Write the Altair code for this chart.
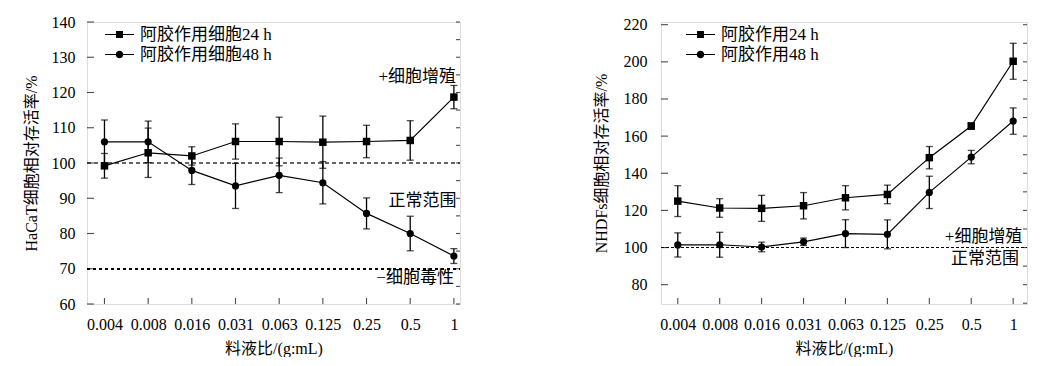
import json
import altair as alt
import pandas as pd

# ---------------- data ----------------
conc_labels = ["0.004", "0.008", "0.016", "0.031", "0.063", "0.125", "0.25", "0.5", "1"]

hacat_24_mean = [99.2, 102.9, 102.0, 106.1, 106.1, 105.9, 106.1, 106.4, 118.7]
hacat_24_err = [3.5, 7.0, 2.6, 5.0, 6.9, 7.4, 4.6, 5.6, 3.3]
hacat_48_mean = [106.0, 106.0, 97.9, 93.5, 96.5, 94.4, 85.7, 80.0, 73.6]
hacat_48_err = [6.2, 5.9, 4.0, 6.4, 4.9, 6.0, 4.4, 4.9, 2.1]

nhdf_24_mean = [125.0, 121.3, 121.1, 122.5, 126.8, 128.6, 148.4, 165.4, 200.3]
nhdf_24_err = [8.3, 5.0, 7.0, 7.1, 6.5, 5.0, 6.0, 1.7, 9.7]
nhdf_48_mean = [101.4, 101.5, 100.3, 103.1, 107.5, 107.1, 129.7, 148.7, 168.1]
nhdf_48_err = [6.5, 6.7, 2.6, 2.0, 7.5, 7.8, 8.7, 3.6, 7.1]

series_left = ["阿胶作用细胞24 h", "阿胶作用细胞48 h"]
series_right = ["阿胶作用24 h", "阿胶作用48 h"]

left_y_labels = [60, 70, 80, 90, 100, 110, 120, 130, 140]
left_y_minor = [60, 65, 70, 75, 80, 85, 90, 95, 100, 105, 110, 115, 120, 125, 130, 135, 140]
right_y_labels = [80, 100, 120, 140, 160, 180, 200, 220]
right_y_minor = [70, 80, 90, 100, 110, 120, 130, 140, 150, 160, 170, 180, 190, 200, 210, 220]

x_title = "料液比/(g:mL)"
left_y_title = "HaCaT细胞相对存活率/%"
right_y_title = "NHDFs细胞相对存活率/%"

left_notes = ["+细胞增殖", "正常范围", "−细胞毒性"]
right_notes = ["+细胞增殖", "正常范围"]

FONT = "Liberation Serif, Noto Sans CJK SC"

# legend glyphs: line with marker (filled shapes only)
SQ_PATH = "M-2,-0.07H2V0.07H-2ZM-0.48,-0.48H0.48V0.48H-0.48Z"
CI_PATH = "M-2,-0.07H2V0.07H-2ZM0.52,0A0.52,0.52,0,1,1,-0.52,0A0.52,0.52,0,1,1,0.52,0Z"


def make_df(m24, e24, m48, e48, names):
    rows = []
    for i, lab in enumerate(conc_labels):
        rows.append(dict(idx=i, conc=lab, series=names[0], kind="24",
                         mean=m24[i], lo=m24[i] - e24[i], hi=m24[i] + e24[i]))
    for i, lab in enumerate(conc_labels):
        rows.append(dict(idx=i, conc=lab, series=names[1], kind="48",
                         mean=m48[i], lo=m48[i] - e48[i], hi=m48[i] + e48[i]))
    return pd.DataFrame(rows)


def panel(df, names, ydom, ylab_vals, ymaj, ymin, xdom, width, height, ytitle,
          refs, notes, legend_xy, ypad, ytpad):
    xs = alt.Scale(domain=xdom, nice=False, zero=False)
    ys = alt.Scale(domain=ydom, nice=False, zero=False)
    label_expr = json.dumps(conc_labels, ensure_ascii=False) + "[datum.value]"
    xaxis = alt.Axis(values=list(range(len(conc_labels))), labelExpr=label_expr,
                     ticks=False, domain=False, grid=False, labelFlush=False,
                     labelOverlap=False, labelPadding=12, titlePadding=8,
                     labelFont="Liberation Serif", labelFontSize=16,
                     labelColor="black", titleFont=FONT, titleFontSize=16,
                     titleFontWeight="normal", titleColor="black")
    yaxis = alt.Axis(values=ylab_vals, ticks=False, domain=False, grid=False,
                     labelFlush=False, labelOverlap=False, labelPadding=ypad,
                     titlePadding=ytpad, labelFont="Liberation Serif",
                     labelFontSize=16, labelColor="black", titleFont=FONT,
                     titleFontSize=16, titleFontWeight="normal", titleColor="black")

    def X(field):
        return alt.X(field, type="quantitative", scale=xs, axis=xaxis, title=x_title)

    def Y(field):
        return alt.Y(field, type="quantitative", scale=ys, axis=yaxis, title=ytitle)

    def XD(v):
        return alt.X(datum=v, type="quantitative", scale=xs, axis=xaxis, title=x_title)

    def YD(v):
        return alt.Y(datum=v, type="quantitative", scale=ys, axis=yaxis, title=ytitle)

    base = alt.Chart(df)
    layers = []
    # reference lines
    for v, col, dash in refs:
        layers.append(base.mark_rule(color=col, strokeDash=dash, strokeWidth=1.1)
                      .encode(x=XD(xdom[0]), x2=alt.X2(datum=xdom[1]), y=YD(v)))
    # inward ticks
    tick_x = pd.DataFrame({"t": list(range(len(conc_labels)))})
    layers.append(alt.Chart(tick_x).mark_tick(orient="vertical", size=6, thickness=1.1,
                                              color="black", yOffset=-3)
                  .encode(x=X("t"), y=YD(ydom[0])))
    layers.append(alt.Chart(pd.DataFrame({"t": ymaj})).mark_tick(
        orient="horizontal", size=7, thickness=1.1, color="black", xOffset=3.5)
        .encode(x=XD(xdom[0]), y=Y("t")))
    layers.append(alt.Chart(pd.DataFrame({"t": ymin})).mark_tick(
        orient="horizontal", size=4, thickness=1.1, color="black", xOffset=-2)
        .encode(x=XD(xdom[1]), y=Y("t")))
    # error bars
    layers.append(base.mark_rule(color="black", strokeWidth=1.3)
                  .encode(x=X("idx"), y=Y("lo"), y2="hi"))
    layers.append(base.mark_tick(orient="horizontal", size=7, thickness=1.3, color="black")
                  .encode(x=X("idx"), y=Y("lo")))
    layers.append(base.mark_tick(orient="horizontal", size=7, thickness=1.3, color="black")
                  .encode(x=X("idx"), y=Y("hi")))
    # lines
    layers.append(base.mark_line(color="black", strokeWidth=1.2)
                  .encode(x=X("idx"), y=Y("mean"), detail="series:N"))
    # points
    layers.append(base.transform_filter(alt.datum.kind == "24")
                  .mark_point(shape="square", filled=True, color="black", size=56, opacity=1)
                  .encode(x=X("idx"), y=Y("mean")))
    layers.append(base.transform_filter(alt.datum.kind == "48")
                  .mark_point(shape="circle", filled=True, color="black", size=52, opacity=1)
                  .encode(x=X("idx"), y=Y("mean")))
    # legend-only layer
    layers.append(base.transform_filter("false")
                  .mark_point(filled=True, color="black", opacity=1)
                  .encode(x=X("idx"), y=Y("mean"),
                          shape=alt.Shape("series:N",
                                          scale=alt.Scale(domain=names, range=[SQ_PATH, CI_PATH]),
                                          legend=alt.Legend(orient="none", legendX=legend_xy[0],
                                                            legendY=legend_xy[1], title=None,
                                                            labelFont=FONT, labelFontSize=17,
                                                            labelColor="black", symbolSize=210,
                                                            labelOffset=12, padding=0, rowPadding=2,
                                                            symbolFillColor="black",
                                                            symbolOpacity=1))))
    # annotations
    for txt, (xv, yv) in notes:
        layers.append(alt.Chart(pd.DataFrame({"s": [txt]}))
                      .mark_text(align="right", baseline="middle", font=FONT, fontSize=17,
                                 color="black")
                      .encode(x=XD(xv), y=YD(yv), text="s:N"))
    return alt.layer(*layers).properties(width=width, height=height)


df_left = make_df(hacat_24_mean, hacat_24_err, hacat_48_mean, hacat_48_err, series_left)
df_right = make_df(nhdf_24_mean, nhdf_24_err, nhdf_48_mean, nhdf_48_err, series_right)

left = panel(df_left, series_left, [60, 140], left_y_labels, left_y_labels, left_y_minor,
             [-0.4, 8.14], 373, 282, left_y_title,
             [(100, "#666666", [4, 3]), (70, "black", [3, 3])],
             list(zip(left_notes, [(8.05, 124.4), (8.06, 89.2), (8.0, 67.5)])),
             (24, 4), 12, 12)

right = panel(df_right, series_right, [69.6, 221.45], right_y_labels, right_y_labels, right_y_minor,
              [-0.4, 8.33], 366, 282, right_y_title,
              [(100, "black", [3, 2])],
              list(zip(right_notes, [(8.22, 105.7), (8.14, 93.7)])),
              (31, 4), 14, 14)

chart = (alt.hconcat(left, right, spacing=130)
         .resolve_scale(x="independent", y="independent", shape="independent")
         .resolve_legend(shape="independent")
         .properties(padding={"left": 14, "top": 5, "right": 0, "bottom": 0},
                     background="white")
         .configure_view(stroke="black", strokeWidth=1.2)
         .configure(font=FONT))

chart.save("out.html", embed_options={"renderer": "svg", "actions": False})
